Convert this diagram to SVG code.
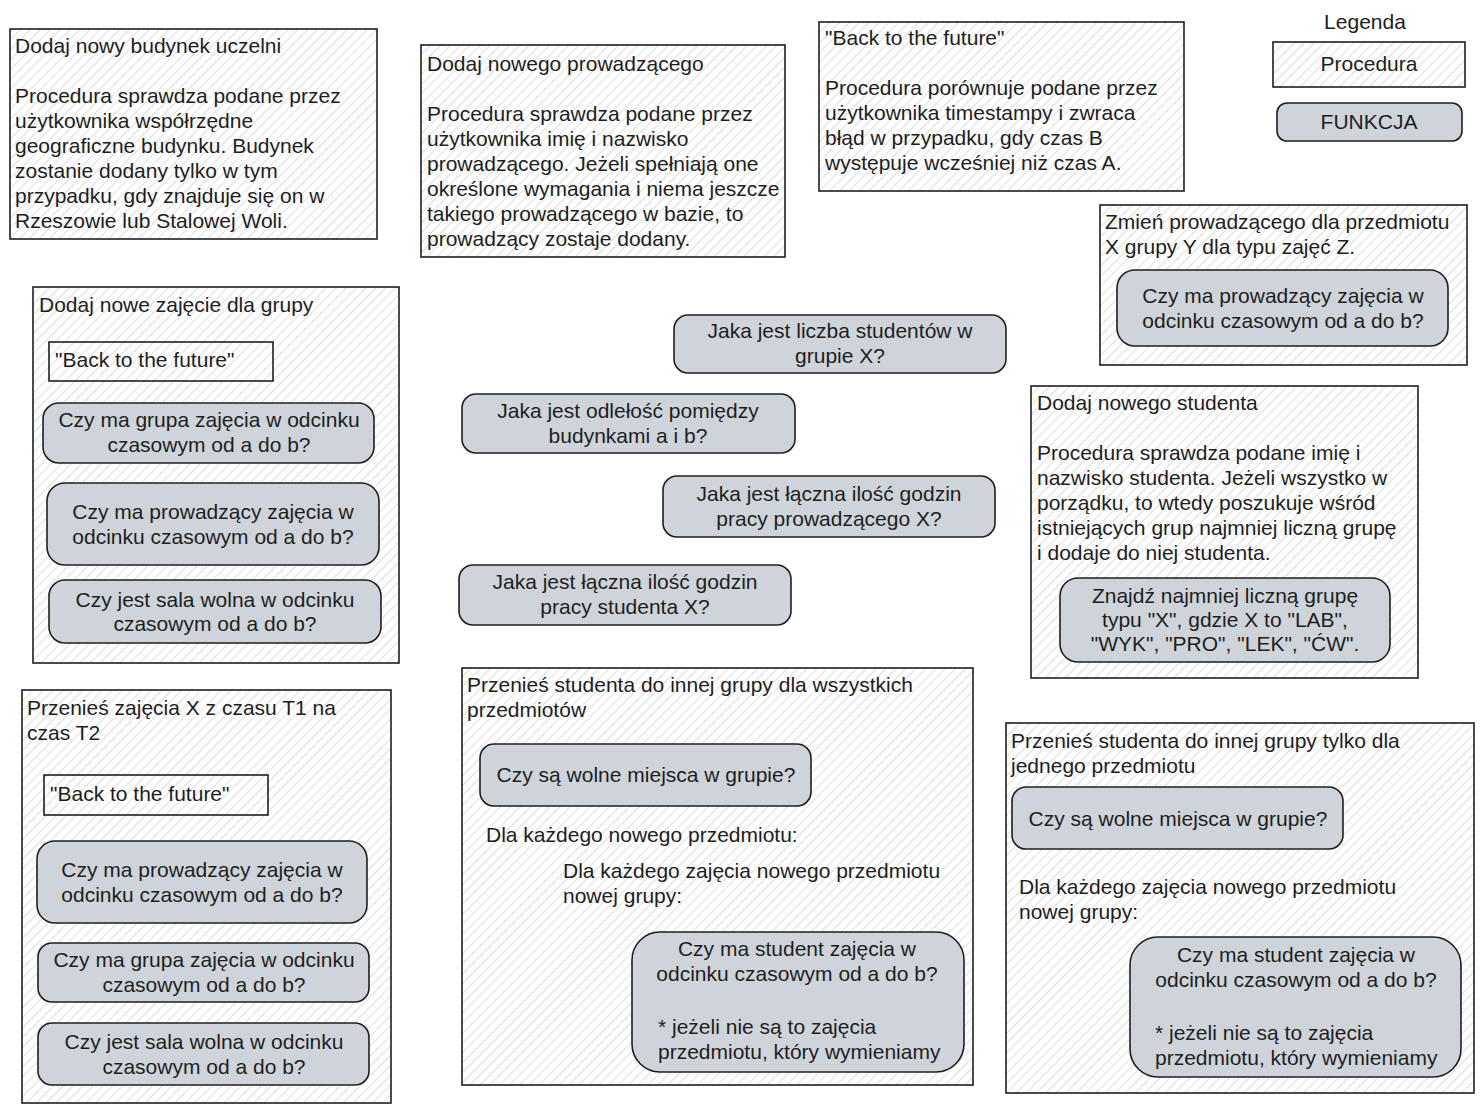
<svg xmlns="http://www.w3.org/2000/svg" width="1484" height="1112" viewBox="0 0 1484 1112">
<defs>
<pattern id="hatch" patternUnits="userSpaceOnUse" width="7" height="7" patternTransform="rotate(45)">
<rect width="7" height="7" fill="#ffffff"/>
<line x1="0" y1="0" x2="0" y2="7" stroke="#c8c8c8" stroke-width="1.2"/>
</pattern>
</defs>
<style>
.proc{fill:url(#hatch);stroke:#1e1e1e;stroke-width:1.6}
.func{fill:#ced4da;stroke:#1e1e1e;stroke-width:1.6}
.t{font-family:"Liberation Sans","DejaVu Sans",sans-serif;font-size:21px;fill:#1e1e1e}
.c{text-anchor:middle}
</style>
<rect width="1484" height="1112" fill="#ffffff"/>
<g id="connectors"/>

<g id="dodaj-budynek">
<rect class="proc" x="10" y="29" width="367" height="210"/>
<text class="t" x="15" y="53">Dodaj nowy budynek uczelni</text>
<text class="t" x="15" y="103">Procedura sprawdza podane przez</text>
<text class="t" x="15" y="128">użytkownika współrzędne</text>
<text class="t" x="15" y="153">geograficzne budynku. Budynek</text>
<text class="t" x="15" y="178">zostanie dodany tylko w tym</text>
<text class="t" x="15" y="203">przypadku, gdy znajduje się on w</text>
<text class="t" x="15" y="228">Rzeszowie lub Stalowej Woli.</text>
</g>

<g id="dodaj-prowadzacego">
<rect class="proc" x="421" y="45" width="364" height="212"/>
<text class="t" x="427" y="71">Dodaj nowego prowadzącego</text>
<text class="t" x="427" y="121">Procedura sprawdza podane przez</text>
<text class="t" x="427" y="146">użytkownika imię i nazwisko</text>
<text class="t" x="427" y="171">prowadzącego. Jeżeli spełniają one</text>
<text class="t" x="427" y="196">określone wymagania i niema jeszcze</text>
<text class="t" x="427" y="221">takiego prowadzącego w bazie, to</text>
<text class="t" x="427" y="246">prowadzący zostaje dodany.</text>
</g>

<g id="back-to-the-future">
<rect class="proc" x="819" y="22" width="365" height="169"/>
<text class="t" x="825" y="45">"Back to the future"</text>
<text class="t" x="825" y="95">Procedura porównuje podane przez</text>
<text class="t" x="825" y="120">użytkownika timestampy i zwraca</text>
<text class="t" x="825" y="145">błąd w przypadku, gdy czas B</text>
<text class="t" x="825" y="170">występuje wcześniej niż czas A.</text>
</g>

<g id="legenda">
<text class="t c" x="1365" y="29">Legenda</text>
<rect class="proc" x="1273" y="42" width="192" height="45"/>
<text class="t c" x="1369" y="71">Procedura</text>
<rect class="func" x="1277" y="103" width="185" height="38" rx="10"/>
<text class="t c" x="1369" y="129">FUNKCJA</text>
</g>

<g id="zmien-prowadzacego">
<rect class="proc" x="1100" y="205" width="367" height="160"/>
<text class="t" x="1105" y="229">Zmień prowadzącego dla przedmiotu</text>
<text class="t" x="1105" y="254">X grupy Y dla typu zajęć Z.</text>
<rect class="func" x="1117" y="270" width="331" height="76" rx="18"/>
<text class="t c" x="1283" y="303">Czy ma prowadzący zajęcia w</text>
<text class="t c" x="1283" y="328">odcinku czasowym od a do b?</text>
</g>

<g id="dodaj-zajecie">
<rect class="proc" x="33" y="287" width="366" height="376"/>
<text class="t" x="39" y="312">Dodaj nowe zajęcie dla grupy</text>
<rect class="proc" x="49" y="342" width="224" height="39"/>
<text class="t" x="55" y="367">"Back to the future"</text>
<rect class="func" x="43" y="403" width="331" height="60" rx="16"/>
<text class="t c" x="209" y="427">Czy ma grupa zajęcia w odcinku</text>
<text class="t c" x="209" y="452">czasowym od a do b?</text>
<rect class="func" x="47" y="483" width="332" height="82" rx="18"/>
<text class="t c" x="213" y="519">Czy ma prowadzący zajęcia w</text>
<text class="t c" x="213" y="544">odcinku czasowym od a do b?</text>
<rect class="func" x="49" y="580" width="332" height="63" rx="16"/>
<text class="t c" x="215" y="607">Czy jest sala wolna w odcinku</text>
<text class="t c" x="215" y="631">czasowym od a do b?</text>
</g>

<g id="liczba-studentow">
<rect class="func" x="674" y="315" width="332" height="58" rx="14"/>
<text class="t c" x="840" y="338">Jaka jest liczba studentów w</text>
<text class="t c" x="840" y="363">grupie X?</text>
</g>

<g id="odleglosc">
<rect class="func" x="462" y="394" width="333" height="59" rx="14"/>
<text class="t c" x="628" y="418">Jaka jest odlełość pomiędzy</text>
<text class="t c" x="628" y="443">budynkami a i b?</text>
</g>

<g id="godziny-prowadzacego">
<rect class="func" x="663" y="476" width="332" height="61" rx="14"/>
<text class="t c" x="829" y="501">Jaka jest łączna ilość godzin</text>
<text class="t c" x="829" y="526">pracy prowadzącego X?</text>
</g>

<g id="godziny-studenta">
<rect class="func" x="459" y="565" width="332" height="60" rx="14"/>
<text class="t c" x="625" y="589">Jaka jest łączna ilość godzin</text>
<text class="t c" x="625" y="614">pracy studenta X?</text>
</g>

<g id="dodaj-studenta">
<rect class="proc" x="1031" y="386" width="387" height="292"/>
<text class="t" x="1037" y="410">Dodaj nowego studenta</text>
<text class="t" x="1037" y="460">Procedura sprawdza podane imię i</text>
<text class="t" x="1037" y="485">nazwisko studenta. Jeżeli wszystko w</text>
<text class="t" x="1037" y="510">porządku, to wtedy poszukuje wśród</text>
<text class="t" x="1037" y="535">istniejących grup najmniej liczną grupę</text>
<text class="t" x="1037" y="560">i dodaje do niej studenta.</text>
<rect class="func" x="1060" y="578" width="330" height="84" rx="18"/>
<text class="t c" x="1225" y="603">Znajdź najmniej liczną grupę</text>
<text class="t c" x="1225" y="627">typu "X", gdzie X to "LAB",</text>
<text class="t c" x="1225" y="651">"WYK", "PRO", "LEK", "ĆW".</text>
</g>

<g id="przenies-zajecia">
<rect class="proc" x="22" y="690" width="369" height="413"/>
<text class="t" x="27" y="715">Przenieś zajęcia X z czasu T1 na</text>
<text class="t" x="27" y="740">czas T2</text>
<rect class="proc" x="44" y="775" width="224" height="40"/>
<text class="t" x="50" y="801">"Back to the future"</text>
<rect class="func" x="37" y="841" width="330" height="82" rx="18"/>
<text class="t c" x="202" y="877">Czy ma prowadzący zajęcia w</text>
<text class="t c" x="202" y="902">odcinku czasowym od a do b?</text>
<rect class="func" x="38" y="943" width="331" height="59" rx="14"/>
<text class="t c" x="204" y="967">Czy ma grupa zajęcia w odcinku</text>
<text class="t c" x="204" y="992">czasowym od a do b?</text>
<rect class="func" x="38" y="1023" width="331" height="62" rx="14"/>
<text class="t c" x="204" y="1049">Czy jest sala wolna w odcinku</text>
<text class="t c" x="204" y="1074">czasowym od a do b?</text>
</g>

<g id="przenies-studenta-wszystkie">
<rect class="proc" x="462" y="668" width="511" height="417"/>
<text class="t" x="467" y="692">Przenieś studenta do innej grupy dla wszystkich</text>
<text class="t" x="467" y="717">przedmiotów</text>
<rect class="func" x="480" y="744" width="331" height="62" rx="14"/>
<text class="t c" x="646" y="782">Czy są wolne miejsca w grupie?</text>
<text class="t" x="486" y="842">Dla każdego nowego przedmiotu:</text>
<text class="t" x="563" y="878">Dla każdego zajęcia nowego przedmiotu</text>
<text class="t" x="563" y="903">nowej grupy:</text>
<rect class="func" x="632" y="932" width="332" height="140" rx="28"/>
<text class="t c" x="797" y="956">Czy ma student zajęcia w</text>
<text class="t c" x="797" y="981">odcinku czasowym od a do b?</text>
<text class="t" x="658" y="1034">* jeżeli nie są to zajęcia</text>
<text class="t" x="658" y="1059">przedmiotu, który wymieniamy</text>
</g>

<g id="przenies-studenta-jeden">
<rect class="proc" x="1006" y="723" width="468" height="370"/>
<text class="t" x="1011" y="748">Przenieś studenta do innej grupy tylko dla</text>
<text class="t" x="1011" y="773">jednego przedmiotu</text>
<rect class="func" x="1012" y="787" width="331" height="62" rx="14"/>
<text class="t c" x="1178" y="826">Czy są wolne miejsca w grupie?</text>
<text class="t" x="1019" y="894">Dla każdego zajęcia nowego przedmiotu</text>
<text class="t" x="1019" y="919">nowej grupy:</text>
<rect class="func" x="1130" y="937" width="331" height="140" rx="28"/>
<text class="t c" x="1296" y="962">Czy ma student zajęcia w</text>
<text class="t c" x="1296" y="987">odcinku czasowym od a do b?</text>
<text class="t" x="1155" y="1040">* jeżeli nie są to zajęcia</text>
<text class="t" x="1155" y="1065">przedmiotu, który wymieniamy</text>
</g>
</svg>
